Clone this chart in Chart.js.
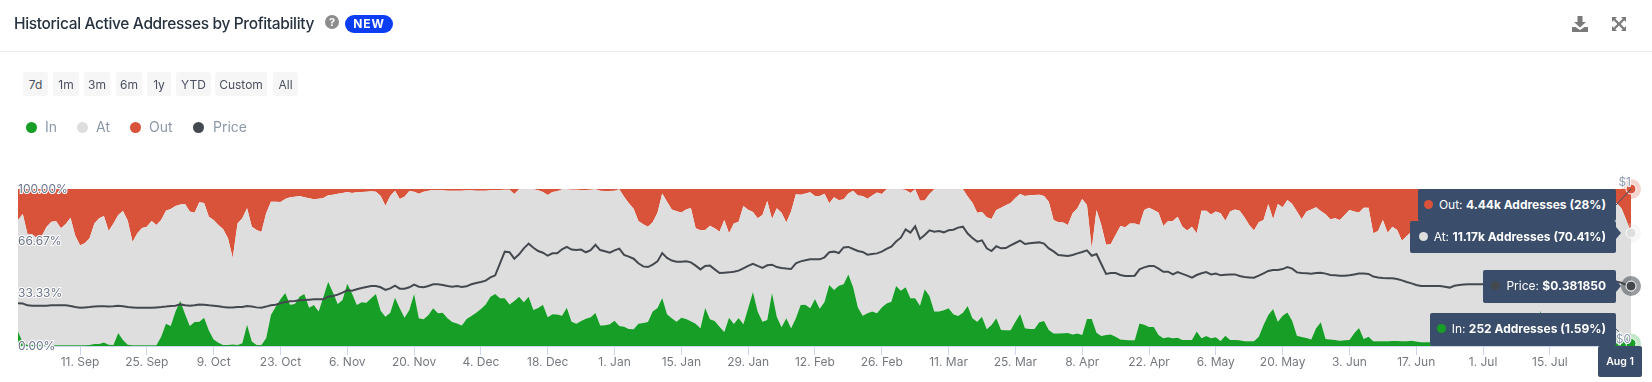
<!DOCTYPE html>
<html>
<head>
<meta charset="utf-8">
<title>Historical Active Addresses by Profitability</title>
<script src="https://cdn.jsdelivr.net/npm/chart.js@4"></script>
<style>
html,body{margin:0;padding:0;background:#fff;width:1652px;height:382px;overflow:hidden;font-family:Inter,sans-serif}
#chart{position:absolute;left:0;top:0}
.abs{position:absolute;white-space:nowrap}
#title{left:14px;top:13px;font-size:15.5px;line-height:22px;font-weight:500;color:#26323f;letter-spacing:-.35px}
#help{left:325px;top:15px;width:14px;height:14px;border-radius:50%;background:#8c8c8c;color:#fff;font-size:11px;line-height:14px;font-weight:700;text-align:center}
#newtag{left:345px;top:15px;width:48px;height:18px;border-radius:9px;background:#0b3df5;color:#fff;font-size:12px;line-height:18px;font-weight:700;text-align:center;letter-spacing:.8px}
#rule{left:0;top:51px;width:1652px;height:1px;background:#ececec}
.btn{top:72px;height:24px;line-height:25px;background:#f6f6f6;border-radius:3px;font-size:12px;color:#4a5160;text-align:center}
.leg{top:118px;font-size:14px;line-height:18px;color:#8c99a9}
.dot{top:122px;width:11px;height:11px;border-radius:50%}
.tip{right:36px;height:32px;line-height:32px;background:#3a4d6b;border-radius:2px;color:#fff;font-size:12px;padding:0 10px 0 0;box-sizing:border-box;text-align:right}
.tip b{font-weight:700}
.tip i{display:inline-block;width:9px;height:9px;border-radius:50%;margin-right:6px;vertical-align:0}
#dateBox{left:1598px;top:346px;width:44px;height:31px;line-height:31px;background:#3a4d6b;border-radius:2px;color:#fff;font-size:10.5px;font-weight:600;text-align:center}
</style>
</head>
<body>
<canvas id="chart" width="1652" height="382"></canvas>

<div class="abs" id="title">Historical Active Addresses by Profitability</div>
<div class="abs" id="help">?</div>
<div class="abs" id="newtag">NEW</div>
<svg class="abs" style="left:1572px;top:16px" width="16" height="16" viewBox="0 0 16 16"><path fill="#7a7a7a" d="M5.5 0h5v6H14L8 11.5 2 6h3.5zM0 11h3.5L8 14l4.500-3H16v5H0z"/></svg>
<svg class="abs" style="left:1612px;top:17px" width="14" height="14" viewBox="0 0 14 14"><path fill="#7a7a7a" d="M0 0h5L3.300 1.700 7 5.400 10.700 1.700 9 0h5v5l-1.700-1.700L8.600 7l3.700 3.700L14 9v5H9l1.700-1.700L7 8.600l-3.700 3.700L5 14H0V9l1.700 1.700L5.400 7 1.700 3.300 0 5z"/></svg>
<div class="abs" id="rule"></div>

<div class="abs btn" style="left:23px;width:25px">7d</div>
<div class="abs btn" style="left:53px;width:26px">1m</div>
<div class="abs btn" style="left:84px;width:26px">3m</div>
<div class="abs btn" style="left:116px;width:26px">6m</div>
<div class="abs btn" style="left:147px;width:24px">1y</div>
<div class="abs btn" style="left:176px;width:35px">YTD</div>
<div class="abs btn" style="left:215px;width:52px">Custom</div>
<div class="abs btn" style="left:273px;width:25px">All</div>

<div class="abs dot" style="left:26px;background:#179e26"></div><div class="abs leg" style="left:45px">In</div>
<div class="abs dot" style="left:77px;background:#dedede"></div><div class="abs leg" style="left:96px">At</div>
<div class="abs dot" style="left:130px;background:#d9523a"></div><div class="abs leg" style="left:149px">Out</div>
<div class="abs dot" style="left:193px;background:#444950"></div><div class="abs leg" style="left:213px">Price</div>

<div class="abs tip" style="top:189px;width:198px"><i style="background:#d9523a"></i>Out: <b>4.44k Addresses (28%)</b></div>
<div class="abs tip" style="top:221px;width:206px"><i style="background:#dedede"></i>At: <b>11.17k Addresses (70.41%)</b></div>
<div class="abs tip" style="top:270px;width:133px;height:33px"><i style="background:#444950"></i>Price: <b>$0.381850</b></div>
<div class="abs tip" style="top:313px;width:186px;height:33px"><i style="background:#179e26"></i>In: <b>252 Addresses (1.59%)</b></div>
<div class="abs" id="dateBox">Aug 1</div>

<script>
// daily values (stretch under the tooltips is a best guess)
const startDate = "2023-08-29";
const monthNames = ["Jan","Feb","Mar","Apr","May","Jun","Jul","Aug","Sep","Oct","Nov","Dec"];
const tickLabels = ["11. Sep","25. Sep","9. Oct","23. Oct","6. Nov","20. Nov","4. Dec","18. Dec","1. Jan","15. Jan","29. Jan","12. Feb","26. Feb","11. Mar","25. Mar","8. Apr","22. Apr","6. May","20. May","3. Jun","17. Jun","1. Jul","15. Jul"];
const shareTicks = [0,33.33,66.67,100];
const shareTickLabels = ["0.00%","33.33%","66.67%","100.00%"];
const priceTicks = [0,1];
const priceTickLabels = ["$0","$1"];

const inPct = [
9.3,2.3,.6,.6,.5,.5,.5,.5,.5,.5,.5,.5,.5,.5,.5,.6,1.2,1.2,2.3,.8,.6,8.3,3.8,.8,.4,.4,.4,.4,.4,.4,
5.9,14.2,12.7,21.9,28.9,20.4,12.7,15.3,15.5,18,9.8,4.2,2.1,.6,.6,1,.6,1.7,13.6,2.8,.6,.6,4.9,19.7,25,29.7,33.8,26.3,26.8,31.4,
33.1,24.4,26.1,21.9,31.4,41,34,26.8,29.3,39.7,33.5,26.1,27.8,27.6,30.4,33.1,22.5,18.7,21.2,30.8,24,18,22.9,33.1,17.6,17,19.7,24,20.8,21.2,
17.6,15.3,14.4,13,17.2,19.1,21.2,23.6,26.5,31.4,33.1,30.4,30.4,26.5,28.7,31.4,27.8,31.4,22.9,24.2,26.3,18.3,20.2,20,19.3,24.4,15.5,14.2,15.9,17.4,
18.3,21,13,13.2,13.8,16.1,12.7,12.3,10.8,10.6,14.2,14.6,15.3,21.9,24.2,30.6,20.2,17.6,15.5,18,17.2,15.7,14.2,11.3,24.2,17,15.9,12.3,8.9,18,
14,17.8,13.8,24,34.4,21.9,15.5,16.6,33.8,18.7,11.9,17.6,11.3,17.6,26.1,26.3,24,29.9,23.8,28,38.9,35.7,38.4,39.3,45.6,37.4,24.6,19.3,20.8,21.9,
20.8,24.6,27,28.2,38.2,35.2,37.4,30.4,30.4,25.7,36.1,31.8,21.9,21.9,22.7,24,20.2,19.1,21.2,25.5,17.6,15.5,18.7,10.6,13.4,17.6,10.2,10,10,15.5,
20.4,11.3,10.8,10.8,15.1,15.9,10.2,7.9,7.9,8.1,8.3,7.4,7.9,7,17.2,17.2,8.5,6.4,7,7.4,5.9,4.2,3.8,3.6,3.6,14.4,13.6,12.1,12.1,7,
4.9,5.5,4.9,5.3,3.8,3.8,3.8,9.3,4.9,6.4,4.9,5.5,3.2,6.6,3.8,3.8,3.6,3,3,3,5.9,13.4,19.7,23.6,15.5,19.3,21.4,16.1,6.6,5.7,
5.1,4.2,11.3,15.1,4.5,4.2,3.8,3.4,3.6,3.8,8.1,11.5,4.5,5.9,3,3,3,3,3.2,3.2,3,3,3.4,2.8,2.4,2.4,2.4,2.2,2.2,2.2,
2.4,2.4,2.2,2.2,2,2,2.2,2.4,2.4,2.6,2.6,2.4,2.2,2.4,2.6,2.8,3,3.6,9,22.5,9,4,3,2.6,2.4,2.2,2.2,2.4,2.6,2.8,
3,3.4,4,5,5.5,5,4,2.8,1.59
];

const atPct = [
71,81.8,70.5,70.5,68.1,69.8,75.5,78.7,78.9,74.5,77.2,81.2,69.8,63.6,64.9,68,76.9,80.1,80.5,72.4,77.5,75.1,82.2,79,65.8,71.4,74.8,75.6,79.2,76.7,
74.4,72,74.6,67.3,61.3,70,72.9,69.6,76,73.1,72.6,76.1,75,73.7,68,55.1,77.5,79.6,74.1,73.2,73.3,72,79.6,72.2,66.9,62,59.8,68.4,68.3,64.1,
61.6,69.7,67.3,71.9,62.9,55,62.4,70.2,68.2,58.4,64,71.8,70.3,70.7,68.1,65.2,73,70.7,74.3,68.1,69.6,77.1,75.8,65.2,79.4,81.3,79.2,75.4,78.6,78,
81.3,83.6,84.5,85.9,82,80.1,77.7,75.3,72.4,67.8,66.3,69,69.2,73.1,68.1,68.4,72,68.4,76.9,75,71.8,77.9,77.9,78.5,80.5,75.4,84.1,85.4,83.5,82,
81.3,78.8,85.9,85.5,84.9,82.8,87.1,82.8,80.1,76.9,65.4,62.9,60.7,56.9,60.7,66.6,71.7,69.4,70.3,67.1,69.8,72.2,60.8,62.4,49.7,59.6,59.1,60.5,71.4,53.8,
64.1,61.4,75.4,62.8,51,59.4,67.9,75.8,47.1,69,73,61,74.3,79,70.3,70.9,73.9,65.6,71.7,69,52,59,54.4,54.1,51.6,61.5,71.2,76.2,73,73.9,
76.9,72.2,72.8,71.6,61.6,64.6,62,67.1,69.4,66.9,56.5,65,77.9,77.9,77.1,75.8,79.6,80.7,78.6,69.8,73.7,69.4,66.7,71.4,67.5,69,77.9,79.6,81.1,78.8,
76.4,84.2,85.2,85.4,81.3,79.6,81.7,72.4,70.9,70.5,68.8,77.1,79.8,86.6,72.6,44.8,78.1,70.7,57.5,57.6,64.8,72.2,71.8,74.5,74.5,62.7,73,76,74.5,77.9,
71.5,74.1,74.7,77.1,72.2,69.7,72.2,62.5,81.3,79.8,78.8,80.1,81.3,73.2,81.8,83.2,82.6,79,74.1,70.5,72.9,66.9,70.7,57.1,74.9,69,71.6,74.3,79,75,
80.5,82.8,77,70.9,79.4,76.5,77.5,76.9,79.8,82.8,77.5,73.6,83.6,82.2,68.8,70.2,77.3,69.2,72.8,70.7,64.1,67.1,69.4,74.3,73.6,71.6,75.6,72.8,69.8,67.8,
71.6,74.6,76.8,73.8,71,69,72.8,75.6,77.6,74.4,71.4,69.6,73.8,76.6,78.4,75.2,72,69.4,67,56.5,68,70,69,72.4,75.6,77.8,74.8,71.6,73.4,76.2,
79,81.6,84,87,87.5,86,83.7,77.5,70.41
];

const outPct = [
19.7,15.9,28.9,28.9,31.4,29.7,24,20.8,20.6,25,22.3,18.3,29.7,35.9,34.6,31.4,21.9,18.7,17.2,26.8,21.9,16.6,14,20.2,33.8,28.2,24.8,24,20.4,22.9,
19.7,13.8,12.7,10.8,9.8,9.6,14.4,15.1,8.5,8.9,17.6,19.7,22.9,25.7,31.4,43.9,21.9,18.7,12.3,24,26.1,27.4,15.5,8.1,8.1,8.3,6.4,5.3,4.9,4.5,
5.3,5.9,6.6,6.2,5.7,4,3.6,3,2.5,1.9,2.5,2.1,1.9,1.7,1.5,1.7,4.5,10.6,4.5,1.1,6.4,4.9,1.3,1.7,3,1.7,1.1,.6,.6,.8,
1.1,1.1,1.1,1.1,.8,.8,1.1,1.1,1.1,.8,.6,.6,.4,.4,3.2,.2,.2,.2,.2,.8,1.9,3.8,1.9,1.5,.2,.2,.4,.4,.6,.6,
.4,.2,1.1,1.3,1.3,1.1,.2,4.9,9.1,12.5,20.4,22.5,24,21.2,15.1,2.8,8.1,13,14.2,14.9,13,12.1,25,26.3,26.1,23.4,25,27.2,19.7,28.2,
21.9,20.8,10.8,13.2,14.6,18.7,16.6,7.6,19.1,12.3,15.1,21.4,14.4,3.4,3.6,2.8,2.1,4.5,4.5,3,9.1,5.3,7.2,6.6,2.8,1.1,4.2,4.5,6.2,4.2,
2.3,3.2,.2,.2,.2,.2,.6,2.5,.2,7.4,7.4,3.2,.2,.2,.2,.2,.2,.2,.2,4.7,8.7,15.1,14.6,18,19.1,13.4,11.9,10.4,8.9,5.7,
3.2,4.5,4,3.8,3.6,4.5,8.1,19.7,21.2,21.4,22.9,15.5,12.3,6.4,10.2,38,13.4,22.9,35.5,35,29.3,23.6,24.4,21.9,21.9,22.9,13.4,11.9,13.4,15.1,
23.6,20.4,20.4,17.6,24,26.5,24,28.2,13.8,13.8,16.3,14.4,15.5,20.2,14.4,13,13.8,18,22.9,26.5,21.2,19.7,9.6,19.3,9.6,11.7,7,9.6,14.4,19.3,
14.4,13,11.7,14,16.1,19.3,18.7,19.7,16.6,13.4,14.4,14.9,11.9,11.9,28.2,26.8,19.7,27.8,24,26.1,32.9,29.9,27.2,22.9,24,26,22,25,28,30,
26,23,21,24,27,29,25,22,20,23,26,28,24,21,19,22,25,27,24,21,23,26,28,25,22,20,23,26,24,21,
18,15,12,8,7,9,12.3,19.7,28
];

const price = [
.272,.270,.259,.257,.257,.257,.257,.259,.259,.259,.259,.255,.248,.244,.246,.248,.251,.253,.253,.251,.253,.257,.253,.248,.246,.244,.244,.244,.244,.246,
.248,.251,.255,.257,.265,.259,.257,.259,.265,.263,.259,.257,.253,.248,.246,.246,.248,.248,.255,.251,.246,.244,.251,.259,.263,.272,.280,.285,.287,.291,
.293,.295,.297,.297,.297,.314,.318,.327,.340,.355,.352,.361,.369,.376,.382,.382,.374,.357,.367,.384,.365,.365,.374,.391,.378,.374,.382,.393,.393,.389,
.382,.378,.382,.376,.380,.393,.401,.408,.416,.437,.450,.527,.601,.597,.556,.584,.622,.652,.626,.605,.594,.575,.590,.590,.616,.631,.614,.611,.614,.597,
.611,.645,.611,.603,.594,.609,.620,.580,.569,.556,.527,.507,.503,.518,.539,.592,.561,.544,.537,.537,.539,.533,.512,.488,.510,.512,.488,.465,.467,.469,
.473,.480,.495,.510,.524,.510,.497,.514,.518,.503,.497,.493,.490,.527,.539,.546,.552,.552,.552,.565,.597,.601,.592,.628,.631,.618,.605,.599,.582,.586,
.590,.601,.618,.633,.665,.690,.743,.722,.762,.682,.707,.737,.728,.732,.724,.737,.741,.754,.760,.716,.688,.665,.673,.622,.605,.635,.622,.624,.641,.656,
.671,.650,.654,.658,.660,.652,.622,.603,.580,.577,.573,.580,.590,.599,.609,.575,.586,.522,.459,.465,.465,.452,.446,.446,.448,.488,.501,.510,.510,.493,
.473,.473,.456,.471,.459,.448,.435,.452,.463,.471,.456,.461,.450,.454,.456,.456,.446,.439,.437,.435,.448,.463,.478,.484,.484,.490,.503,.493,.469,.465,
.463,.461,.465,.467,.461,.452,.450,.448,.448,.450,.456,.461,.461,.459,.442,.437,.433,.431,.431,.427,.418,.408,.399,.389,.382,.382,.382,.382,.382,.378,
.372,.384,.389,.391,.393,.393,.393,.393,.395,.393,.391,.389,.387,.387,.384,.389,.393,.397,.399,.401,.403,.399,.397,.395,.393,.391,.389,.391,.395,.399,
.403,.405,.408,.410,.412,.410,.403,.389,.38185
];

// one label per day, starting from startDate
const dayLabels = inPct.map((_, i) => {
  const d = new Date(Date.parse(startDate) + i * 86400000);
  return d.getUTCDate() + ". " + monthNames[d.getUTCMonth()];
});
const last = inPct.length - 1;

// halos and tooltip pointers on the last point of each series
const endMarks = {
  id: "endMarks",
  afterDatasetsDraw(chart){
    const c = chart.ctx;
    const halos = [[0,"rgba(23,158,38,.25)"],[1,"rgba(222,222,222,.25)"],[2,"rgba(217,82,58,.25)"],[3,"rgba(68,73,80,.55)"]];
    c.save();
    halos.forEach(h => {
      const p = chart.getDatasetMeta(h[0]).data[last];
      c.fillStyle = h[1];
      c.beginPath();
      c.arc(p.x, p.y, 10, 0, Math.PI * 2);
      c.fill();
      c.fillStyle = chart.data.datasets[h[0]].backgroundColor;
      c.strokeStyle = "#fff";
      c.lineWidth = 1;
      c.beginPath();
      c.arc(p.x, p.y, 5, 0, Math.PI * 2);
      c.fill();
      c.stroke();
    });
    const tipRight = 1616;
    const tipColor = "#3a4d6b";
    c.strokeStyle = tipColor;
    c.lineWidth = 1;
    // out and in sit too far from their boxes, so they get a thin line
    [[2,205],[0,329]].forEach(s => {
      const p = chart.getDatasetMeta(s[0]).data[last];
      c.beginPath();
      c.moveTo(tipRight, s[1]);
      c.lineTo(p.x, p.y);
      c.stroke();
    });
    c.fillStyle = tipColor;
    [1,3].forEach(i => {
      const p = chart.getDatasetMeta(i).data[last];
      c.beginPath();
      c.moveTo(tipRight, p.y - 6);
      c.lineTo(tipRight + 5, p.y);
      c.lineTo(tipRight, p.y + 6);
      c.fill();
    });
    c.restore();
  }
};

const areaSet = (label, data, color) => ({
  label: label,
  data: data,
  yAxisID: "y",
  stack: "share",
  backgroundColor: color,
  borderWidth: 0,
  fill: label === "In" ? "origin" : "-1",
  pointRadius: 0,
  tension: 0,
  clip: false,
  order: 2
});

new Chart(document.getElementById("chart"), {
  type: "line",
  plugins: [endMarks],
  data: {
    labels: dayLabels,
    datasets: [
      areaSet("In", inPct, "#179e26"),
      areaSet("At", atPct, "#dedede"),
      areaSet("Out", outPct, "#d9523a"),
      {
        label: "Price",
        data: price,
        yAxisID: "y2",
        borderColor: "#444950",
        backgroundColor: "#444950",
        borderWidth: 2,
        pointRadius: 0,
        fill: false,
        tension: 0,
        clip: false,
        order: 1
      }
    ]
  },
  options: {
    responsive: false,
    animation: false,
    events: [],
    layout: { padding: { left: 18, right: 21, top: 189, bottom: 0 } },
    plugins: { legend: { display: false }, tooltip: { enabled: false } },
    scales: {
      x: {
        grid: { drawOnChartArea: false, tickLength: 9, tickColor: "#ccd6eb", tickWidth: 1 },
        border: { color: "#ccd6eb" },
        afterBuildTicks: s => { s.ticks = s.ticks.filter(t => tickLabels.includes(dayLabels[t.value])); },
        afterFit: s => { s.height = 36; },
        ticks: {
          autoSkip: false,
          maxRotation: 0,
          padding: 0,
          color: "#75797f",
          font: { family: "Inter", size: 12 },
          callback: function(v){ return dayLabels[v]; }
        }
      },
      y: {
        stacked: true,
        min: 0,
        max: 100,
        position: "left",
        grid: { display: false },
        border: { display: false },
        afterBuildTicks: s => { s.ticks = shareTicks.map(v => ({ value: v })); },
        afterFit: s => { s.width = 0; },
        ticks: {
          mirror: true,
          padding: 0,
          z: 1,
          color: "#6b7488",
          textStrokeColor: "#fff",
          textStrokeWidth: 2,
          font: { family: "Inter", size: 12 },
          callback: v => shareTickLabels[shareTicks.indexOf(v)]
        }
      },
      y2: {
        min: 0,
        max: 1,
        position: "right",
        grid: { display: false },
        border: { display: false },
        afterBuildTicks: s => { s.ticks = priceTicks.map(v => ({ value: v })); },
        afterFit: s => { s.width = 0; },
        ticks: {
          mirror: true,
          padding: 0,
          z: 1,
          labelOffset: -7,
          color: "#8f9bb0",
          textStrokeColor: "#fff",
          textStrokeWidth: 2,
          font: { family: "Inter", size: 12 },
          callback: v => priceTickLabels[priceTicks.indexOf(v)]
        }
      }
    }
  }
});
</script>
</body>
</html>
